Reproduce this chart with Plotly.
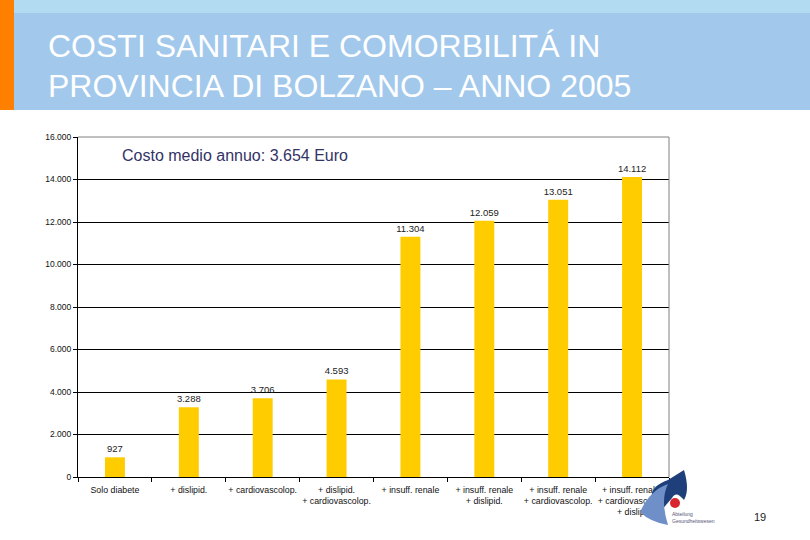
import plotly.graph_objects as go

categories = [
    "Solo diabete",
    "+ dislipid.",
    "+ cardiovascolop.",
    "+ dislipid.<br>+ cardiovascolop.",
    "+ insuff. renale",
    "+ insuff. renale<br>+ dislipid.",
    "+ insuff. renale<br>+ cardiovascolop.",
    "+ insuff. renale,<br>+ cardiovascolop.<br>+ dislip.",
]
values = [927, 3288, 3706, 4593, 11304, 12059, 13051, 14112]
value_labels = ["927", "3.288", "3.706", "4.593", "11.304", "12.059", "13.051", "14.112"]
y_tickvals = [0, 2000, 4000, 6000, 8000, 10000, 12000, 14000, 16000]
y_ticktext = ["0", "2.000", "4.000", "6.000", "8.000", "10.000", "12.000", "14.000", "16.000"]

title_lines = ["COSTI SANITARI E COMORBILITÁ IN", "PROVINCIA DI BOLZANO – ANNO 2005"]
note_text = "Costo medio annuo: 3.654 Euro"
page_number = "19"

W, H = 810, 540
L, R, T, B = 78, 669, 137, 477  # plot area in pixels


def px(x):
    return (x - L) / (R - L)


def py(y):
    return (B - y) / (B - T)


fig = go.Figure()
fig.add_trace(go.Bar(
    x=categories, y=values, text=value_labels,
    textposition="outside", cliponaxis=False, constraintext="none",
    textfont=dict(size=9.5, color="#222222", family="Liberation Sans, Arial"),
    marker=dict(color="#FFCC00", line=dict(width=0)),
    width=0.27, hoverinfo="skip",
))

shapes = [
    # header band
    dict(type="rect", xref="paper", yref="paper", x0=px(0), x1=px(W), y0=py(110), y1=py(13),
         fillcolor="#A2C9EC", line=dict(width=0), layer="below"),
    dict(type="rect", xref="paper", yref="paper", x0=px(0), x1=px(W), y0=py(13), y1=py(0),
         fillcolor="#B2DBF2", line=dict(width=0), layer="below"),
    dict(type="rect", xref="paper", yref="paper", x0=px(0), x1=px(14), y0=py(110), y1=py(0),
         fillcolor="#FF8000", line=dict(width=0), layer="below"),
    # grey frame top and right
    dict(type="line", xref="paper", yref="paper", x0=0, x1=1, y0=1, y1=1,
         line=dict(color="#808080", width=1), layer="above"),
    dict(type="line", xref="paper", yref="paper", x0=1, x1=1, y0=0, y1=1,
         line=dict(color="#808080", width=1), layer="above"),
    # logo approximation
    dict(type="path", xref="paper", yref="paper",
         path=f"M {px(660)},{py(512)} Q {px(640)},{py(490)} {px(668)},{py(480)} L {px(684)},{py(470)} "
              f"Q {px(690)},{py(490)} {px(684)},{py(500)} Q {px(676)},{py(490)} {px(672)},{py(498)} Z",
         fillcolor="#1F3F7A", line=dict(width=0)),
    dict(type="path", xref="paper", yref="paper",
         path=f"M {px(640)},{py(512)} Q {px(650)},{py(490)} {px(668)},{py(484)} "
              f"Q {px(660)},{py(500)} {px(668)},{py(525)} Q {px(650)},{py(522)} {px(640)},{py(512)} Z",
         fillcolor="#6F8FC8", line=dict(width=0)),
    dict(type="circle", xref="paper", yref="paper", x0=px(670), x1=px(680), y0=py(508), y1=py(498),
         fillcolor="#D8262E", line=dict(width=0)),
]

annotations = [
    dict(text=title_lines[0], xref="paper", yref="paper", x=px(46), y=py(46), xanchor="left", yanchor="middle",
         showarrow=False, font=dict(size=32, color="white", family="Liberation Sans, Arial")),
    dict(text=title_lines[1], xref="paper", yref="paper", x=px(46), y=py(86), xanchor="left", yanchor="middle",
         showarrow=False, font=dict(size=32, color="white", family="Liberation Sans, Arial")),
    dict(text=note_text, xref="paper", yref="paper", x=px(120), y=py(155), xanchor="left", yanchor="middle",
         showarrow=False, font=dict(size=16, color="#333366", family="Liberation Sans, Arial")),
    dict(text=page_number, xref="paper", yref="paper", x=px(760), y=py(517), xanchor="center", yanchor="middle",
         showarrow=False, font=dict(size=11, color="#222222", family="Liberation Sans, Arial")),
    dict(text="Abteilung<br>Gesundheitswesen", xref="paper", yref="paper", x=px(670), y=py(517),
         xanchor="left", yanchor="middle", align="left",
         showarrow=False, font=dict(size=5, color="#555577", family="Liberation Sans, Arial")),
]

fig.update_layout(
    width=W, height=H,
    margin=dict(l=L, r=W - R, t=T, b=H - B, pad=0),
    paper_bgcolor="white", plot_bgcolor="white",
    showlegend=False, hovermode=False,
    shapes=shapes, annotations=annotations,
    font=dict(family="Liberation Sans, Arial", size=9, color="#111111"),
    bargap=0.73,
)
fig.update_yaxes(
    range=[0, 16000], tickvals=y_tickvals, ticktext=y_ticktext,
    showgrid=True, gridcolor="black", gridwidth=1,
    showline=True, linecolor="black", linewidth=1,
    ticks="outside", ticklen=4, tickcolor="black",
    tickfont=dict(size=8.5, color="#111111"), zeroline=False, fixedrange=True,
)
fig.update_xaxes(
    showline=True, linecolor="black", linewidth=1,
    ticks="outside", ticklen=4, tickcolor="black", tickson="boundaries",
    tickfont=dict(size=8.8, color="#111111"), showgrid=False, tickangle=0,
    ticklabelstandoff=4, fixedrange=True,
)

fig.write_html(
    "out.html",
    config={"displayModeBar": False},
    post_script="document.body.style.margin='0';document.body.style.padding='0';",
)
